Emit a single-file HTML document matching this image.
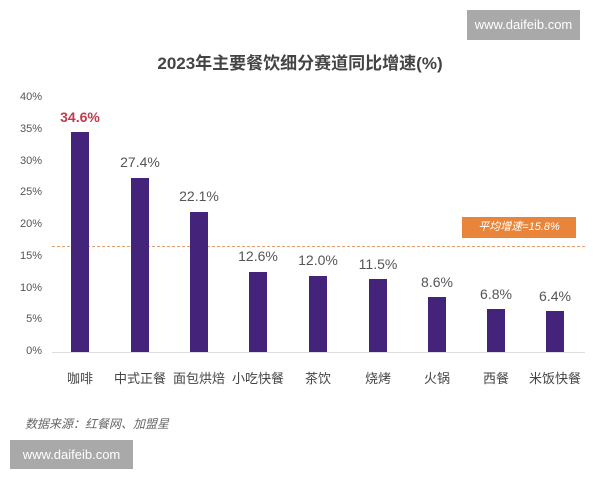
<!DOCTYPE html>
<html><head><meta charset="utf-8"><style>
body{margin:0;width:600px;height:480px;background:#fff;position:relative;overflow:hidden;font-family:"Liberation Sans","Noto Sans CJK SC",sans-serif}
.a{position:absolute}
.wm{background:#a9a9a9;color:#fff;font-size:13px;line-height:30px;text-align:center}
.yl{left:14px;width:28px;text-align:right;font-size:11px;color:#555}
.bar{background:#44237a;width:18px}
.v{font-size:14px;color:#555;width:60px;text-align:center}
.c{font-size:13px;color:#444;width:70px;text-align:center;top:368px}
</style></head><body>
<div class="a wm" style="left:467px;top:10px;width:113px;height:30px">www.daifeib.com</div>
<div class="a" style="left:0;width:600px;top:49px;text-align:center;font-size:17px;font-weight:bold;color:#444">2023年主要餐饮细分赛道同比增速(%)</div>
<div class="a yl" style="top:91px">40%</div>
<div class="a yl" style="top:123px">35%</div>
<div class="a yl" style="top:155px">30%</div>
<div class="a yl" style="top:186px">25%</div>
<div class="a yl" style="top:218px">20%</div>
<div class="a yl" style="top:250px">15%</div>
<div class="a yl" style="top:282px">10%</div>
<div class="a yl" style="top:313px">5%</div>
<div class="a yl" style="top:345px">0%</div>
<div class="a" style="left:52px;top:352px;width:533px;height:1px;background:#ddd"></div>
<div class="a" style="left:52px;top:246px;width:533px;border-top:1px dashed #e2a070"></div>
<div class="a" style="left:462px;top:217px;width:114px;height:21px;background:#e8853a;color:#fff;font-size:11px;font-style:italic;line-height:21px;text-align:center">平均增速=15.8%</div>

<div class="a bar" style="left:71px;top:132px;height:220px"></div>
<div class="a bar" style="left:131px;top:178px;height:174px"></div>
<div class="a bar" style="left:190px;top:212px;height:140px"></div>
<div class="a bar" style="left:249px;top:272px;height:80px"></div>
<div class="a bar" style="left:309px;top:276px;height:76px"></div>
<div class="a bar" style="left:369px;top:279px;height:73px"></div>
<div class="a bar" style="left:428px;top:297px;height:55px"></div>
<div class="a bar" style="left:487px;top:309px;height:43px"></div>
<div class="a bar" style="left:546px;top:311px;height:41px"></div>

<div class="a v" style="left:50px;top:109px;color:#c0394b;font-weight:bold">34.6%</div>
<div class="a v" style="left:110px;top:154px">27.4%</div>
<div class="a v" style="left:169px;top:188px">22.1%</div>
<div class="a v" style="left:228px;top:248px">12.6%</div>
<div class="a v" style="left:288px;top:252px">12.0%</div>
<div class="a v" style="left:348px;top:256px">11.5%</div>
<div class="a v" style="left:407px;top:274px">8.6%</div>
<div class="a v" style="left:466px;top:286px">6.8%</div>
<div class="a v" style="left:525px;top:288px">6.4%</div>

<div class="a c" style="left:45px">咖啡</div>
<div class="a c" style="left:105px">中式正餐</div>
<div class="a c" style="left:164px">面包烘焙</div>
<div class="a c" style="left:223px">小吃快餐</div>
<div class="a c" style="left:283px">茶饮</div>
<div class="a c" style="left:343px">烧烤</div>
<div class="a c" style="left:402px">火锅</div>
<div class="a c" style="left:461px">西餐</div>
<div class="a c" style="left:520px">米饭快餐</div>

<div class="a" style="left:25px;top:415px;font-size:12px;font-style:italic;color:#666">数据来源：红餐网、加盟星</div>
<div class="a wm" style="left:10px;top:440px;width:123px;height:29px;line-height:29px">www.daifeib.com</div>
</body></html>
